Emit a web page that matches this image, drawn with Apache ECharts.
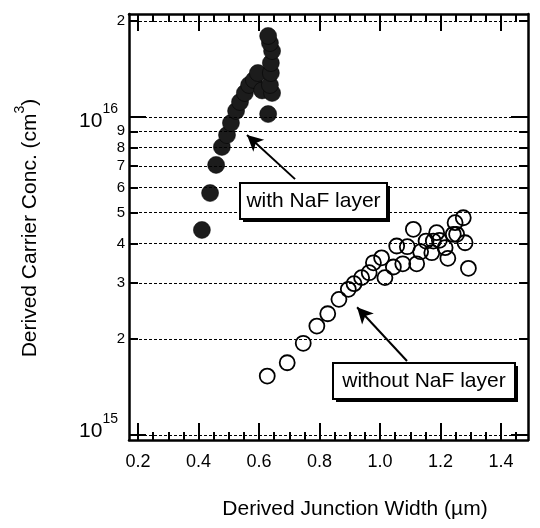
<!DOCTYPE html>
<html><head><meta charset="utf-8">
<script src="https://cdn.jsdelivr.net/npm/echarts@6/dist/echarts.min.js"></script>
<style>html,body{margin:0;padding:0;background:#fff}#c{width:540px;height:528px}</style>
</head><body><div id="c"></div>
<script>
// ---- data ----
const withX = [0.411,0.438,0.458,0.477,0.494,0.507,0.524,0.537,0.553,0.567,0.583,0.596,0.610,0.630,0.643,0.636,0.639,0.639,0.643,0.636,0.630];
const withY = [4.41e15,5.76e15,7.06e15,8.04e15,8.76e15,9.56e15,1.043e16,1.113e16,1.188e16,1.259e16,1.305e16,1.373e16,1.21e16,1.02e16,1.188e16,1.259e16,1.373e16,1.476e16,1.609e16,1.706e16,1.795e16];
const withoutX = [0.627,0.693,0.746,0.791,0.827,0.864,0.895,0.914,0.939,0.964,0.978,1.005,1.016,1.044,1.055,1.075,1.090,1.110,1.121,1.134,1.152,1.171,1.187,1.196,1.215,1.224,1.248,1.253,1.275,1.281,1.292,1.242,1.176];
const withoutY = [1.532e15,1.687e15,1.942e15,2.200e15,2.405e15,2.669e15,2.870e15,2.989e15,3.122e15,3.236e15,3.477e15,3.605e15,3.122e15,3.373e15,3.926e15,3.452e15,3.906e15,4.43e15,3.452e15,3.767e15,4.07e15,3.74e15,4.323e15,4.09e15,3.878e15,3.59e15,4.647e15,4.273e15,4.817e15,4.02e15,3.341e15,4.273e15,4.07e15];
const xMajorTicks = [0.2,0.4,0.6,0.8,1.0,1.2,1.4];
const xMinorTicks = [0.25,0.3,0.35,0.45,0.5,0.55,0.65,0.7,0.75,0.85,0.9,0.95,1.05,1.1,1.15,1.25,1.3,1.35,1.45];
const yMajorTicks = [1e15,1e16];
const yMinorTicks = [2e15,3e15,4e15,5e15,6e15,7e15,8e15,9e15,2e16];
const yGridValues = [1e15,2e15,3e15,4e15,5e15,6e15,7e15,8e15,9e15,1e16,2e16];
const arrowWith = [[0.719,6.37e15],[0.560,8.77e15]];
const arrowWithout = [[1.089,1.708e15],[0.924,2.52e15]];
const X_MIN = 0.17, X_MAX = 1.489, Y_MIN = 0.9645e15, Y_MAX = 2.104e16;

const FONT = '"Liberation Sans", Arial, Helvetica, sans-serif';
const L = Math.log10;
const pairs = (xs, ys) => xs.map((x, i) => [x, ys[i]]);

function xAx(pos, ticks, len, showLine, showLabel) {
  return {
    type: 'value', position: pos, min: X_MIN, max: X_MAX,
    axisLine: {show: showLine, onZero: false, lineStyle: {color: '#000', width: 2.5}},
    axisTick: {show: true, inside: true, length: len, customValues: ticks, lineStyle: {color: '#000', width: 2}},
    axisLabel: {show: showLabel, customValues: ticks, formatter: v => Number(v).toFixed(1),
      fontSize: 18, color: '#000', fontFamily: FONT, margin: 13},
    splitLine: {show: false}
  };
}
function yAx(pos, ticks, len, showLine, labelCfg) {
  const t = ticks.map(L);
  return {
    type: 'value', position: pos, min: L(Y_MIN), max: L(Y_MAX),
    axisLine: {show: showLine, onZero: false, lineStyle: {color: '#000', width: 2.5}},
    axisTick: {show: true, inside: true, length: len, customValues: t, lineStyle: {color: '#000', width: 2}},
    axisLabel: labelCfg ? Object.assign({show: true, customValues: t, color: '#000', fontFamily: FONT}, labelCfg) : {show: false},
    splitLine: {show: false}
  };
}

const chart = echarts.init(document.getElementById('c'), null, {renderer: 'canvas'});
chart.setOption({
  animation: false,
  backgroundColor: '#fff',
  grid: {left: 129, right: 12, top: 14, bottom: 88, containLabel: false},
  xAxis: [
    xAx('bottom', xMajorTicks, 17, true, true),
    xAx('bottom', xMinorTicks, 8, false, false),
    xAx('top', xMajorTicks, 17, true, false),
    xAx('top', xMinorTicks, 8, false, false)
  ],
  yAxis: [
    {type: 'log', position: 'left', min: Y_MIN, max: Y_MAX,
     axisLine: {show: true, onZero: false, lineStyle: {color: '#000', width: 2.5}},
     axisTick: {show: false}, axisLabel: {show: false}, splitLine: {show: false}, minorTick: {show: false}},
    yAx('left', yMajorTicks, 17, false, {
      margin: 11,
      formatter: v => {
        const e = Math.round(v);
        return e <= 15 ? '{d|10}{s|' + e + '}' : '{b|10}{s|' + e + '}';
      },
      rich: {b: {fontSize: 21, fontFamily: FONT, color: '#000', padding: [8, 0, 0, 0]},
             d: {fontSize: 21, fontFamily: FONT, color: '#000', padding: [8, 0, 16, 0]},
             s: {fontSize: 14, fontFamily: FONT, color: '#000', verticalAlign: 'top'}}
    }),
    yAx('left', yMinorTicks, 9, false, {
      margin: 4, fontSize: 15,
      formatter: v => String(Math.round(Math.pow(10, v) / Math.pow(10, Math.floor(v + 1e-9))))
    }),
    yAx('right', yMajorTicks, 17, true, null),
    yAx('right', yMinorTicks, 9, false, null)
  ],
  series: [
    {
      type: 'line', data: [], xAxisIndex: 0, yAxisIndex: 0, silent: true, z: 1,
      markLine: {
        silent: true, symbol: ['none', 'none'], label: {show: false},
        lineStyle: {color: '#000', width: 1, type: [3, 2]},
        data: yGridValues.map(v => ({yAxis: v}))
      }
    },
    {
      name: 'with NaF layer', type: 'scatter', xAxisIndex: 0, yAxisIndex: 0, z: 3,
      symbol: 'circle', symbolSize: 17,
      itemStyle: {color: '#1c1c1c', borderColor: '#000', borderWidth: 0.5, opacity: 1},
      data: pairs(withX, withY)
    },
    {
      name: 'without NaF layer', type: 'scatter', xAxisIndex: 0, yAxisIndex: 0, z: 3,
      symbol: 'circle', symbolSize: 15,
      itemStyle: {color: 'rgba(0,0,0,0)', borderColor: '#000', borderWidth: 1.8, opacity: 1},
      data: pairs(withoutX, withoutY)
    },
    {
      type: 'line', data: [], xAxisIndex: 0, yAxisIndex: 0, silent: true, z: 4,
      markLine: {
        silent: true, symbol: ['none', 'arrow'], symbolSize: [12, 16], label: {show: false},
        lineStyle: {color: '#000', width: 2, type: 'solid'},
        data: [
          [{coord: arrowWith[0]}, {coord: arrowWith[1]}],
          [{coord: arrowWithout[0]}, {coord: arrowWithout[1]}]
        ]
      }
    }
  ],
  graphic: [
    {type: 'rect', shape: {x: 243, y: 186, width: 147, height: 36}, style: {fill: '#000'}, z: 10},
    {type: 'rect', shape: {x: 240, y: 183, width: 147, height: 36}, style: {fill: '#fff', stroke: '#000', lineWidth: 2}, z: 11},
    {type: 'text', x: 313.5, y: 201.5, z: 12,
     style: {text: 'with NaF layer', font: '21px ' + FONT, fill: '#000', align: 'center', verticalAlign: 'middle'}},
    {type: 'rect', shape: {x: 336, y: 366, width: 182, height: 36}, style: {fill: '#000'}, z: 10},
    {type: 'rect', shape: {x: 333, y: 363, width: 182, height: 36}, style: {fill: '#fff', stroke: '#000', lineWidth: 2}, z: 11},
    {type: 'text', x: 424, y: 381.5, z: 12,
     style: {text: 'without NaF layer', font: '21px ' + FONT, fill: '#000', align: 'center', verticalAlign: 'middle'}},
    {type: 'text', x: 355, y: 509, z: 12,
     style: {text: 'Derived Junction Width (\u00b5m)', font: '21px ' + FONT, fill: '#000', align: 'center', verticalAlign: 'middle'}},
    {type: 'text', x: 27, y: 228, rotation: Math.PI / 2, z: 12,
     style: {text: '{a|Derived Carrier Conc. (cm}{s|3}{a|)}', align: 'center', verticalAlign: 'middle',
       rich: {a: {fontSize: 21, fontFamily: FONT, color: '#000', padding: [7, 0, 0, 0]},
              s: {fontSize: 14, fontFamily: FONT, color: '#000', verticalAlign: 'top'}}}}
  ]
});
</script>
</body></html>
